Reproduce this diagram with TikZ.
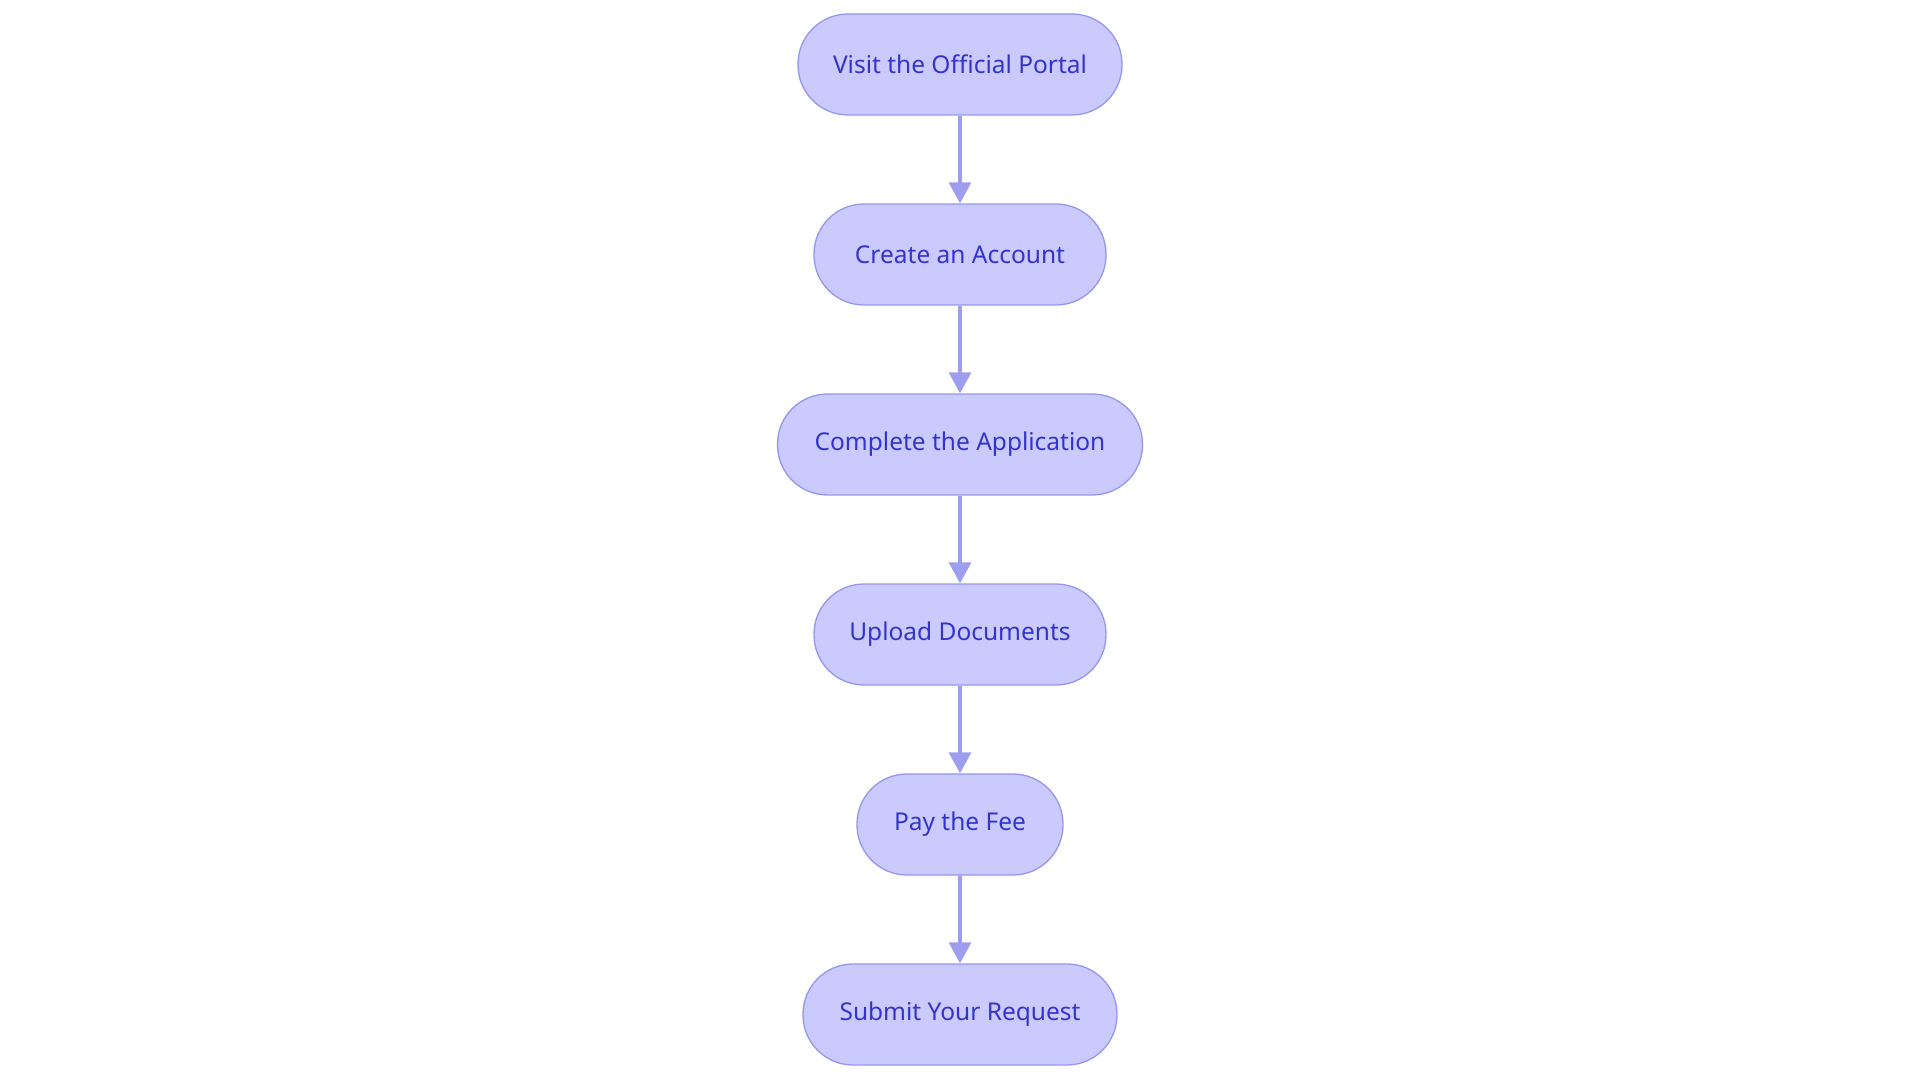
\documentclass[tikz,border=0pt]{standalone}
\usepackage{fontspec}
\setmainfont{Noto Sans}
\usetikzlibrary{arrows.meta}
\definecolor{nodefill}{RGB}{202,202,255}
\definecolor{nodeline}{RGB}{150,150,238}
\definecolor{nodetext}{RGB}{52,52,204}
\definecolor{arrowcol}{RGB}{158,158,240}
\tikzset{
  stepbox/.style={draw=nodeline, line width=1.3pt, fill=nodefill, text=nodetext,
    rounded corners=50pt, minimum height=101pt, inner sep=0pt,
    font=\fontsize{24.5}{29}\selectfont},
  flow/.style={draw=arrowcol, line width=3.3pt,
    -{Triangle[length=21pt,width=22pt]}}
}
\begin{document}
\begin{tikzpicture}[x=1pt,y=-1pt]
\useasboundingbox (0,0) rectangle (1920,1083);
\node[stepbox, minimum width=324pt] (n1) at (960,64.5) {Visit the Official Portal};
\node[stepbox, minimum width=292pt] (n2) at (960,254.5) {Create an Account};
\node[stepbox, minimum width=365pt] (n3) at (960,444.5) {Complete the Application};
\node[stepbox, minimum width=292pt] (n4) at (960,634.5) {Upload Documents};
\node[stepbox, minimum width=206pt] (n5) at (960,824.5) {Pay the Fee};
\node[stepbox, minimum width=314pt] (n6) at (960,1014.5) {Submit Your Request};
\draw[flow] (n1) -- (n2);
\draw[flow] (n2) -- (n3);
\draw[flow] (n3) -- (n4);
\draw[flow] (n4) -- (n5);
\draw[flow] (n5) -- (n6);
\end{tikzpicture}
\end{document}
